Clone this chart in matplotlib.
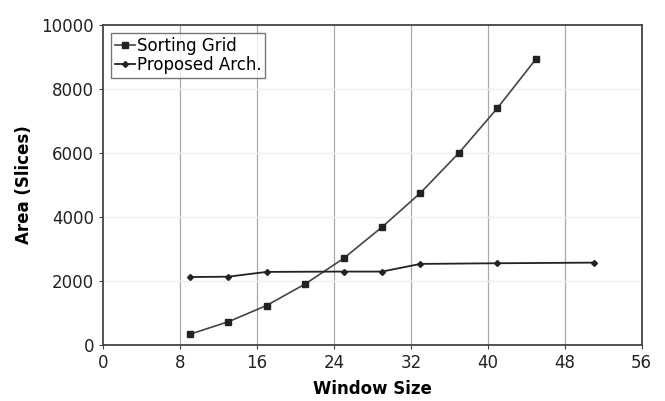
import matplotlib
matplotlib.use("Agg")
from matplotlib import pyplot as plt

# data
sorting_x = [9, 13, 17, 21, 25, 29, 33, 37, 41, 45]
sorting_area = [330, 720, 1230, 1900, 2700, 3680, 4750, 6000, 7400, 8930]
proposed_x = [9, 13, 17, 25, 29, 33, 41, 51]
proposed_area = [2120, 2130, 2280, 2290, 2290, 2530, 2550, 2570]
x_ticks = [0, 8, 16, 24, 32, 40, 48, 56]
y_ticks = [0, 2000, 4000, 6000, 8000, 10000]

fig = plt.figure(figsize=(6.65, 4.01), dpi=100)
ax = fig.add_axes([0.155, 0.14, 0.81, 0.798])

ax.plot(sorting_x, sorting_area, color="#444444", lw=1.2, marker="s", ms=3.8,
        markerfacecolor="#222222", markeredgecolor="#222222",
        label="Sorting Grid")
ax.plot(proposed_x, proposed_area, color="#222222", lw=1.3, marker="D", ms=3.0,
        label="Proposed Arch.")

ax.set_xlim(0, 56)
ax.set_ylim(0, 10000)
ax.set_xticks(x_ticks)
ax.set_yticks(y_ticks)
ax.tick_params(labelsize=12, direction="out", length=3, color="#444444",
               labelcolor="#222222")

# grid: darker vertical lines, faint horizontal ones
for x in x_ticks[1:-1]:
    ax.axvline(x, color="#aaaaaa", lw=0.9, zorder=0)
for y in y_ticks[1:-1]:
    ax.axhline(y, color="#eeeeee", lw=1.0, zorder=0)

for s in ax.spines.values():
    s.set_color("#444444")
    s.set_linewidth(1.3)

ax.set_xlabel("Window Size", fontsize=12, fontweight="bold", labelpad=6)
ax.set_ylabel("Area (Slices)", fontsize=12, fontweight="bold", labelpad=6)

leg = ax.legend(loc="upper left", fontsize=12, frameon=True, fancybox=False,
                handlelength=1.2, handletextpad=0.15, borderpad=0.2,
                labelspacing=0.1, borderaxespad=0.5)
leg.get_frame().set_edgecolor("#555555")
leg.get_frame().set_linewidth(1.0)

fig.savefig("out.png", dpi=100)
